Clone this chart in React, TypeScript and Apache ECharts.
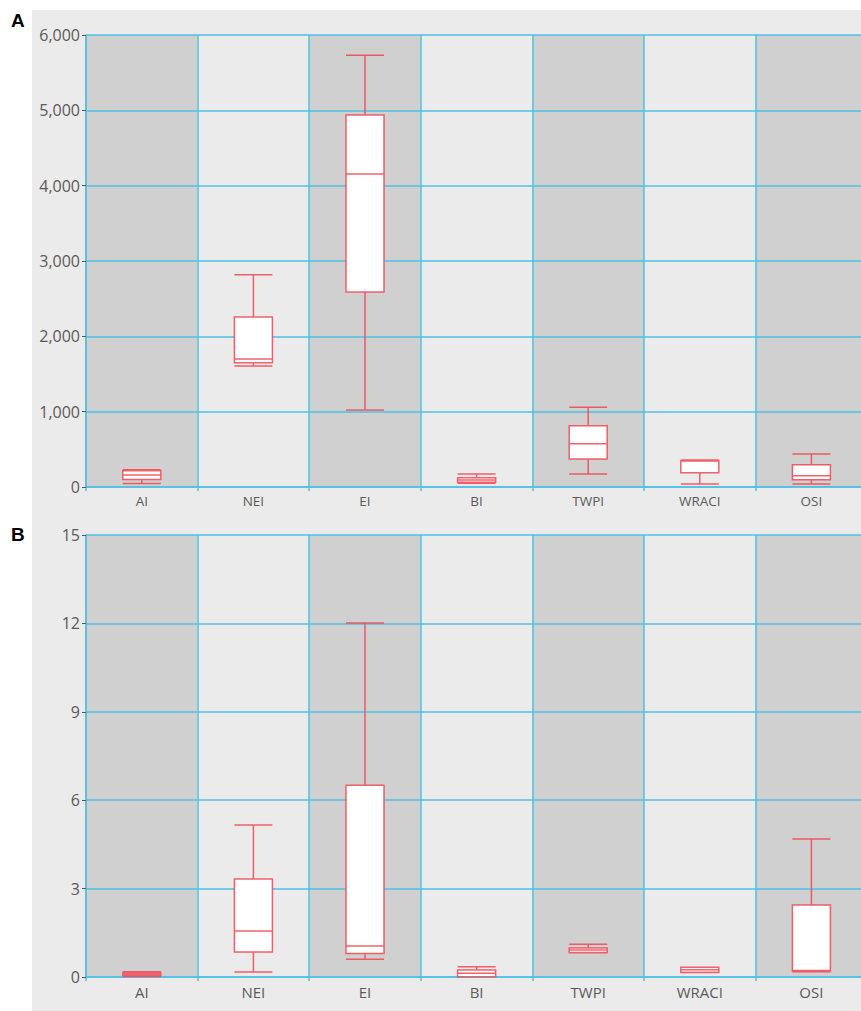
import React, { useEffect, useRef } from "react";
import * as echarts from "echarts";

const categories = ["AI", "NEI", "EI", "BI", "TWPI", "WRACI", "OSI"];

// [min, Q1, median, Q3, max]
const panelAValues = [
  [45, 100, 160, 215, 228],
  [1606, 1650, 1700, 2257, 2818],
  [1022, 2589, 4155, 4938, 5731],
  [50, 62, 93, 124, 172],
  [172, 372, 575, 814, 1058],
  [40, 190, 345, 349, 360],
  [40, 97, 150, 296, 438],
];

const panelBValues = [
  [0.02, 0.05, 0.1, 0.15, 0.18],
  [0.17, 0.85, 1.56, 3.33, 5.16],
  [0.6, 0.8, 1.05, 6.51, 12.01],
  [0.01, 0.01, 0.13, 0.24, 0.35],
  [0.82, 0.83, 0.92, 0.98, 1.11],
  [0.15, 0.16, 0.25, 0.33, 0.33],
  [0.18, 0.2, 0.22, 2.44, 4.68],
];

const panelATicks = { min: 0, max: 6000, interval: 1000 };
const panelBTicks = { min: 0, max: 15, interval: 3 };

const CYAN = "#4FC2E2";
const RED = "rgba(238,70,82,0.85)";
const FONT = "'Open Sans', 'Noto Sans', sans-serif";

function xAxisFor(gridIndex: number, fontSize: number) {
  return {
    type: "category",
    gridIndex,
    z: 0,
    data: categories,
    boundaryGap: true,
    axisLine: { show: true, lineStyle: { color: CYAN, width: 1.5 } },
    axisTick: { show: true, length: 4, lineStyle: { color: CYAN, width: 1.5 } },
    axisLabel: { color: "#5a5a5a", fontSize, fontFamily: FONT, margin: 7 },
    splitLine: { show: true, interval: 0, lineStyle: { color: CYAN, width: 1.5 } },
    splitArea: { show: true, interval: 0, areaStyle: { color: ["#D0D0D0", "#EBEBEB"] } },
  };
}

function yAxisFor(gridIndex: number, t: { min: number; max: number; interval: number }, comma: boolean) {
  return {
    type: "value",
    gridIndex,
    z: 2,
    min: t.min,
    max: t.max,
    interval: t.interval,
    axisLine: { show: true, lineStyle: { color: CYAN, width: 1.5 } },
    axisTick: { show: true, length: 4, lineStyle: { color: "#555", width: 1 } },
    axisLabel: {
      color: "#5a5a5a",
      fontSize: 16,
      fontFamily: FONT,
      margin: 6,
      formatter: (v: number) => (comma ? v.toLocaleString("en-US") : String(v)),
    },
    splitLine: { show: true, lineStyle: { color: CYAN, width: 1.5 } },
    splitArea: { show: false },
  };
}

export default function App() {
  const ref = useRef<HTMLDivElement>(null);
  useEffect(() => {
    if (!ref.current) return;
    const chart = echarts.init(ref.current, undefined, { renderer: "svg" });
    const gridW = 7 * 111.6;
    chart.setOption({
      animation: false,
      backgroundColor: "#ffffff",
      graphic: [
        { type: "rect", z: -10, shape: { x: 32, y: 10, width: 900, height: 1010 }, style: { fill: "#EBEBEB" } },
        { type: "text", left: 11, top: 11, style: { text: "A", fontSize: 19, fontWeight: "bold", fill: "#000", fontFamily: "'Liberation Sans', Arial, sans-serif" } },
        { type: "text", left: 11, top: 525, style: { text: "B", fontSize: 19, fontWeight: "bold", fill: "#000", fontFamily: "'Liberation Sans', Arial, sans-serif" } },
      ],
      grid: [
        { left: 86, top: 35, width: gridW, height: 452 },
        { left: 86, top: 535, width: gridW, height: 442 },
      ],
      xAxis: [xAxisFor(0, 13.5), xAxisFor(1, 15)],
      yAxis: [yAxisFor(0, panelATicks, true), yAxisFor(1, panelBTicks, false)],
      series: [
        {
          type: "boxplot",
          xAxisIndex: 0,
          yAxisIndex: 0,
          z: 5,
          data: panelAValues,
          boxWidth: [38, 38],
          itemStyle: { color: "#ffffff", borderColor: RED, borderWidth: 1.5 },
        },
        {
          type: "boxplot",
          xAxisIndex: 1,
          yAxisIndex: 1,
          z: 5,
          data: panelBValues,
          boxWidth: [38, 38],
          itemStyle: { color: "#ffffff", borderColor: RED, borderWidth: 1.5 },
        },
      ],
    });
    return () => chart.dispose();
  }, []);
  return (
    <div style={{ position: "fixed", left: 0, top: 0, width: 861, height: 1011, overflow: "hidden", background: "#fff" }}>
      <div ref={ref} style={{ width: 900, height: 1011 }} />
    </div>
  );
}
